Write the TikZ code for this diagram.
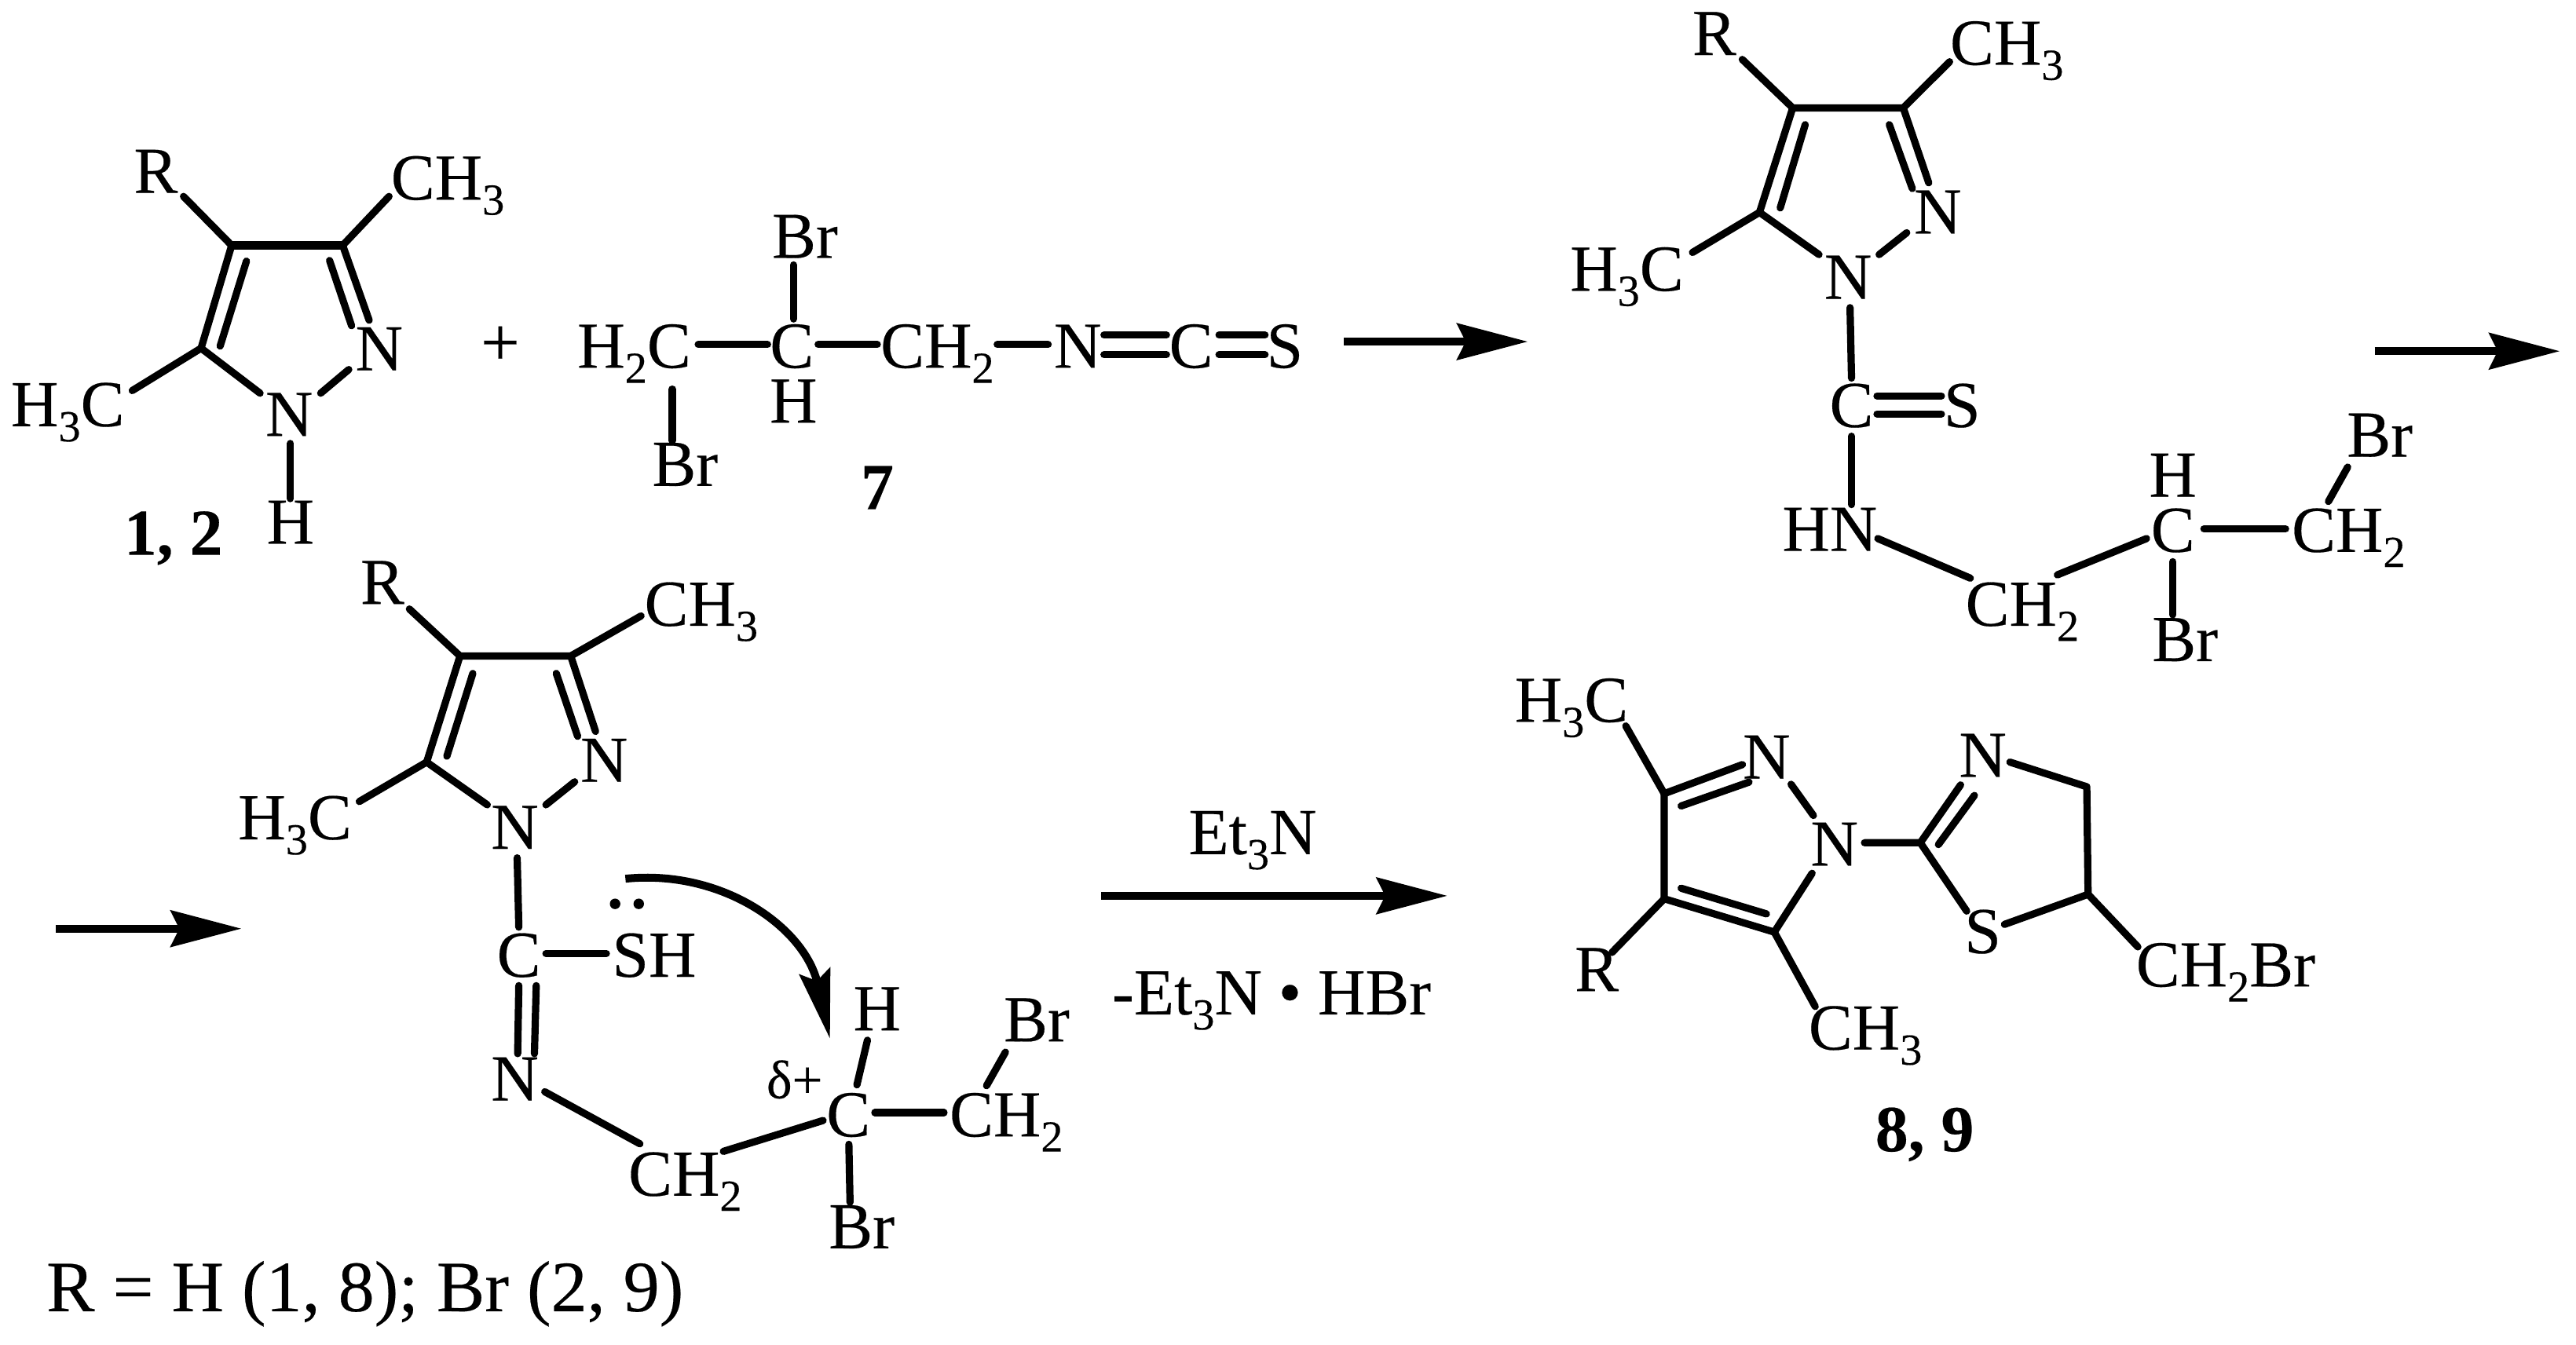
\documentclass[tikz,border=0pt]{standalone}
\usepackage{fontspec}
\setmainfont{Liberation Serif}[RawFeature={embolden=0.25},BoldFeatures={RawFeature={embolden=0.25}}]
\usetikzlibrary{arrows.meta}
\newcommand{\subs}[1]{\raisebox{-4.6pt}{\fontsize{13.5}{13.5}\selectfont #1}}
\tikzset{
  lab/.style={inner sep=0pt,outer sep=0pt,anchor=base west,font=\fontsize{20}{22}\selectfont},
  cen/.style={inner sep=0pt,outer sep=0pt,anchor=base,font=\fontsize{20}{22}\selectfont},
  num/.style={inner sep=0pt,outer sep=0pt,anchor=base west,font=\fontsize{20}{22}\selectfont\bfseries},
  bond/.style={line width=2.2pt,line cap=round,line join=round,black},
  rxn/.style={line width=2.4pt,-{Stealth[length=21.5pt,width=11pt,inset=2.6pt]}},
  curved/.style={line width=2.4pt,-{Stealth[length=21pt,width=9.5pt,inset=3pt]}}
}
\begin{document}
\begin{tikzpicture}[x=0.5pt,y=-0.5pt]
\useasboundingbox (0,0) rectangle (1568,818.44);
% ---------- molecule 1,2
\node[lab] (aR) at (81.5,117.4) {R};
\node[lab] (aMe) at (238,121.5) {CH\subs{3}};
\node[lab] (aMeL) at (6.7,259.5) {H\subs{3}C};
\node[cen] (aN2) at (230.8,225.5) {N};
\node[cen] (aN1) at (176,265.4) {N};
\node[cen] (aH) at (176.8,331) {H};
\node[num] (aNum) at (75.5,337.8) {1, 2};
\node[cen,font=\fontsize{21}{23}\selectfont] (plus) at (304.5,222.5) {+};
\coordinate (a4) at (141,149.4); \coordinate (a3) at (208.6,149.4); \coordinate (a5) at (122.4,212);
\coordinate (aRe) at (111.7,119.6); \coordinate (aMee) at (236.8,119.6); \coordinate (aLe) at (80.5,237.8);
\coordinate (aD1) at (224.7,195); \coordinate (aD2) at (200.6,158.6); \coordinate (aD3) at (214,198.3);
\coordinate (aD4) at (150,159); \coordinate (aD5) at (134,210.7);
\coordinate (aN1a) at (158.3,239.4); \coordinate (aNa) at (212.3,225); \coordinate (aNb) at (195.2,239.4);
\coordinate (aHa) at (176.8,270); \coordinate (aHb) at (176.8,303.6);
\draw[bond] (aRe) -- (a4);
\draw[bond,line width=2.6pt] (a4) -- (a3);
\draw[bond] (aMee) -- (a3) -- (aD1);
\draw[bond] (aD2) -- (aD3);
\draw[bond] (a4) -- (a5) -- (aN1a);
\draw[bond] (aD4) -- (aD5);
\draw[bond] (aLe) -- (a5);
\draw[bond] (aNa) -- (aNb);
\draw[bond] (aHa) -- (aHb);
% ---------- compound 7
\node[lab] (bH2C) at (351.5,223.9) {H\subs{2}C};
\node[cen] (bC) at (482,223.9) {C};
\node[lab] (bBrT) at (470,157) {Br};
\node[cen] (bH) at (483,257.3) {H};
\node[lab] (bBrB) at (397,295.8) {Br};
\node[lab] (bCH2) at (536,223.9) {CH\subs{2}};
\node[cen] (bN) at (656,223.9) {N};
\node[cen] (bC2) at (725,223.9) {C};
\node[cen] (bS) at (782,223.9) {S};
\node[cen,font=\fontsize{20}{22}\selectfont\bfseries] (bNum) at (534,310) {7};
\coordinate (b1) at (425,209.8); \coordinate (b2) at (467.2,209.8);
\coordinate (b3) at (483,161.3); \coordinate (b4) at (483,194.2);
\coordinate (b5) at (409.2,236.9); \coordinate (b6) at (409.2,268.3);
\coordinate (b7) at (498,209.8); \coordinate (b8) at (534,209.8);
\coordinate (b9) at (607,209.8); \coordinate (b10) at (638,209.8);
\coordinate (b11) at (672,204); \coordinate (b12) at (710,204);
\coordinate (b13) at (672,216); \coordinate (b14) at (710,216);
\coordinate (b15) at (742,204); \coordinate (b16) at (770,204);
\coordinate (b17) at (742,216); \coordinate (b18) at (770,216);
\draw[bond] (b1) -- (b2);
\draw[bond] (b3) -- (b4);
\draw[bond] (b5) -- (b6);
\draw[bond] (b7) -- (b8);
\draw[bond] (b9) -- (b10);
\draw[bond] (b11) -- (b12);
\draw[bond] (b13) -- (b14);
\draw[bond] (b15) -- (b16);
\draw[bond] (b17) -- (b18);
\coordinate (r1s) at (818,208); \coordinate (r1e) at (930,208);
\draw[rxn] (r1s) -- (r1e);
% ---------- thiourea
\node[lab] (cR) at (1030.2,33.5) {R};
\node[lab] (cMe) at (1187,39.4) {CH\subs{3}};
\node[lab] (cMeL) at (955.7,177) {H\subs{3}C};
\node[cen] (cN2) at (1179.5,142.2) {N};
\node[cen] (cN1) at (1124.9,181.9) {N};
\node[cen] (cC) at (1127,260) {C};
\node[cen] (cS) at (1194.3,260) {S};
\node[lab] (cHN) at (1084.9,335.4) {HN};
\node[lab] (cCH2) at (1196.4,381) {CH\subs{2}};
\node[cen] (cC2) at (1322.6,336) {C};
\node[cen] (cH) at (1322.6,302.4) {H};
\node[lab] (cBrB) at (1310,402.5) {Br};
\node[lab] (cCH2b) at (1395,336) {CH\subs{2}};
\node[lab] (cBrT) at (1428.6,278) {Br};
\coordinate (c4) at (1091.2,65.7); \coordinate (c3) at (1158.5,65.7); \coordinate (c5) at (1071,129.3);
\coordinate (cRe) at (1060.5,36.2); \coordinate (cMee) at (1186.7,37.6);
\coordinate (cD1) at (1174,111.3); \coordinate (cD2) at (1150,75.9); \coordinate (cD3) at (1164,114.8);
\coordinate (cD4) at (1098.8,75.9); \coordinate (cD5) at (1083.6,126.6);
\coordinate (cN1a) at (1107.2,155); \coordinate (cNa) at (1160.6,141.7); \coordinate (cNb) at (1143.8,155);
\coordinate (cLe) at (1030.2,153.7);
\coordinate (c1) at (1126.1,187.3); \coordinate (c2) at (1127,230.2);
\coordinate (c6) at (1142.5,241); \coordinate (c7) at (1181.7,241);
\coordinate (c8) at (1142.5,252); \coordinate (c9) at (1181.7,252);
\coordinate (c10) at (1127,265.6); \coordinate (c11) at (1127,307.2);
\coordinate (c12) at (1143,327.9); \coordinate (c13) at (1199.3,352);
\coordinate (c14) at (1252.3,350); \coordinate (c15) at (1306.6,327.9);
\coordinate (c16) at (1322.6,342); \coordinate (c17) at (1322.6,374.3);
\coordinate (c18) at (1341.5,322); \coordinate (c19) at (1391.2,322);
\coordinate (c20) at (1417.3,305.3); \coordinate (c21) at (1429,284.4);
\draw[bond] (cRe) -- (c4) -- (c3) -- (cD1);
\draw[bond] (cMee) -- (c3);
\draw[bond] (cD2) -- (cD3);
\draw[bond] (c4) -- (c5) -- (cN1a);
\draw[bond] (cD4) -- (cD5);
\draw[bond] (cLe) -- (c5);
\draw[bond] (cNa) -- (cNb);
\draw[bond] (c1) -- (c2);
\draw[bond] (c6) -- (c7);
\draw[bond] (c8) -- (c9);
\draw[bond] (c10) -- (c11);
\draw[bond] (c12) -- (c13);
\draw[bond] (c14) -- (c15);
\draw[bond] (c16) -- (c17);
\draw[bond] (c18) -- (c19);
\draw[bond] (c20) -- (c21);
\coordinate (r2s) at (1445.4,213.8); \coordinate (r2e) at (1558.2,213.8);
\draw[rxn] (r2s) -- (r2e);
% ---------- intermediate
\coordinate (r3s) at (34,565.4); \coordinate (r3e) at (147,565.4);
\draw[rxn] (r3s) -- (r3e);
\node[lab] (dR) at (219.4,367.7) {R};
\node[lab] (dMe) at (392.3,381) {CH\subs{3}};
\node[lab] (dMeL) at (145,511) {H\subs{3}C};
\node[cen] (dN2) at (367.7,476) {N};
\node[cen] (dN1) at (313.4,516.8) {N};
\node[cen] (dC) at (315.8,594.7) {C};
\node[lab] (dSH) at (372.6,594.7) {SH};
\node[cen] (dN3) at (313.4,670) {N};
\node[lab] (dCH2) at (382.5,728) {CH\subs{2}};
\node[cen] (dC2) at (516.4,691.9) {C};
\node[lab,font=\fontsize{16.5}{18}\selectfont] (dDelta) at (466.6,668.6) {δ+};
\node[cen] (dH) at (533.9,627.3) {H};
\node[lab] (dCH2b) at (578,691.9) {CH\subs{2}};
\node[lab] (dBrT) at (611,634) {Br};
\node[lab] (dBrB) at (504.5,760) {Br};
\node[lab,font=\fontsize{22}{24}\selectfont] (legend) at (28.3,798.3) {R = H (1, 8); Br (2, 9)};
\coordinate (d4) at (280,399.4); \coordinate (d3) at (347.4,399.4); \coordinate (d5) at (259.7,464);
\coordinate (dRe) at (249.2,370.8); \coordinate (dMee) at (390.2,375);
\coordinate (dD1) at (362.5,445.3); \coordinate (dD2) at (338.6,410); \coordinate (dD3) at (351.6,448.3);
\coordinate (dD4) at (287.8,410); \coordinate (dD5) at (272,460.4);
\coordinate (dN1a) at (296.6,490); \coordinate (dNa) at (349.8,476); \coordinate (dNb) at (332.3,490);
\coordinate (dLe) at (218.7,488);
\coordinate (d1) at (314.8,522.3); \coordinate (d2) at (315.8,564.5);
\coordinate (d6) at (332.3,580.5); \coordinate (d7) at (369.1,580.5);
\coordinate (d8) at (315.8,600.1); \coordinate (d9) at (315.1,641.5);
\coordinate (d10) at (326.4,600.1); \coordinate (d11) at (325.3,641.5);
\coordinate (d12) at (331.6,664.7); \coordinate (d13) at (389.5,696.4);
\coordinate (d14) at (440.3,701); \coordinate (d15) at (501,682.2);
\coordinate (d16) at (528,633.3); \coordinate (d17) at (521.6,660.5);
\coordinate (d18) at (532.5,677.4); \coordinate (d19) at (574.6,677.4);
\coordinate (d20) at (600.5,661); \coordinate (d21) at (612,640.6);
\coordinate (d22) at (516.7,696.7); \coordinate (d23) at (517.4,732);
\draw[bond] (dRe) -- (d4) -- (d3) -- (dD1);
\draw[bond] (dMee) -- (d3);
\draw[bond] (dD2) -- (dD3);
\draw[bond] (d4) -- (d5) -- (dN1a);
\draw[bond] (dD4) -- (dD5);
\draw[bond] (dLe) -- (d5);
\draw[bond] (dNa) -- (dNb);
\draw[bond] (d1) -- (d2);
\draw[bond] (d6) -- (d7);
\draw[bond] (d8) -- (d9);
\draw[bond] (d10) -- (d11);
\draw[bond] (d12) -- (d13);
\draw[bond] (d14) -- (d15);
\draw[bond] (d16) -- (d17);
\draw[bond] (d18) -- (d19);
\draw[bond] (d20) -- (d21);
\draw[bond] (d22) -- (d23);
\fill (374.4,550.3) circle[radius=3.2];
\fill (388.8,550.3) circle[radius=3.2];
\coordinate (arcS) at (380.7,535); \coordinate (arcE) at (505.2,632.4);
\draw[curved] (arcS) .. controls (440,529) and (490,565) .. (arcE);
% ---------- reaction arrow
\coordinate (r4s) at (670.4,545.4); \coordinate (r4e) at (881,545.4);
\draw[rxn] (r4s) -- (r4e);
\node[cen] (et) at (762.5,520) {Et\subs{3}N};
\node[cen] (hbr) at (774,617.6) {-Et\subs{3}N • HBr};
% ---------- product
\node[lab] (eMeT) at (922,439.5) {H\subs{3}C};
\node[cen] (eN2) at (1075.3,474) {N};
\node[cen] (eN1) at (1116.6,527) {N};
\node[lab] (eR) at (958.6,603.4) {R};
\node[lab] (eMeB) at (1100.9,639) {CH\subs{3}};
\node[cen] (eN3) at (1206.9,473) {N};
\node[cen] (eS) at (1206.9,580.3) {S};
\node[lab] (eCH2Br) at (1300.2,600.6) {CH\subs{2}Br};
\node[num] (eNum) at (1141.5,700.9) {8, 9};
\coordinate (e3) at (1013,483.2); \coordinate (e4) at (1013,547.2); \coordinate (e5) at (1080,567.5);
\coordinate (e1) at (989.6,442); \coordinate (e2) at (1060.6,465.5);
\coordinate (e6) at (1023.3,490.7); \coordinate (e7) at (1064.6,476.2);
\coordinate (e8) at (1090.2,477.5); \coordinate (e9) at (1103.8,496.5);
\coordinate (e10) at (1023.3,540.8); \coordinate (e11) at (1075.2,556.4);
\coordinate (e12) at (1103,531.7); \coordinate (e13) at (981.2,579.9); \coordinate (e14) at (1104.9,612.8);
\coordinate (e15) at (1134.9,513.1); \coordinate (e16) at (1168.9,513.1);
\coordinate (e17) at (1193.4,477.9); \coordinate (e18) at (1179.9,514.2); \coordinate (e19) at (1201.8,484.3);
\coordinate (e20) at (1223.4,464); \coordinate (e21) at (1270.2,479); \coordinate (e22) at (1271,544.5);
\coordinate (e23) at (1220.1,562.8); \coordinate (e24) at (1197.1,554.7); \coordinate (e25) at (1301.3,576.5);
\draw[bond] (e1) -- (e3) -- (e2);
\draw[bond] (e6) -- (e7);
\draw[bond] (e3) -- (e4) -- (e5) -- (e12);
\draw[bond] (e8) -- (e9);
\draw[bond] (e10) -- (e11);
\draw[bond] (e4) -- (e13);
\draw[bond] (e5) -- (e14);
\draw[bond] (e15) -- (e16) -- (e17);
\draw[bond] (e18) -- (e19);
\draw[bond] (e16) -- (e24);
\draw[bond] (e20) -- (e21) -- (e22) -- (e23);
\draw[bond] (e22) -- (e25);
\end{tikzpicture}
\end{document}
